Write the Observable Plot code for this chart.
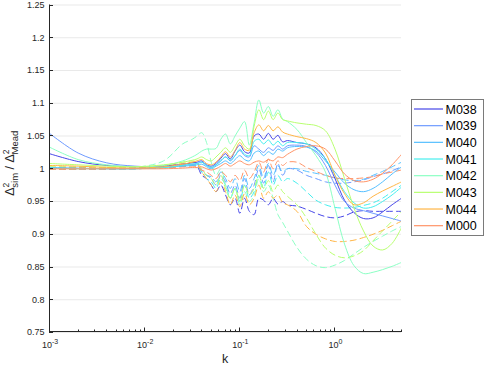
<!DOCTYPE html>
<html><head><meta charset="utf-8">
<script src="https://cdn.jsdelivr.net/npm/d3@7"></script>
<script src="https://cdn.jsdelivr.net/npm/@observablehq/plot@0.6"></script>
<style>body{margin:0;background:#fff} #chart svg{font-family:"Liberation Sans",Arial,sans-serif}</style>
</head><body><div id="chart"></div>
<script>
// wavenumber grid
const k = [0.001, 0.002, 0.004, 0.0079, 0.0158, 0.0251, 0.0316, 0.0355, 0.0398, 0.0447, 0.0501, 0.0562, 0.0631, 0.0708, 0.0794, 0.0891, 0.1, 0.1122, 0.1259, 0.1413, 0.1585, 0.1778, 0.1995, 0.2239, 0.2512, 0.2818, 0.3162, 0.3981, 0.5012, 0.631, 0.7943, 1.0, 1.2589, 1.5849, 1.9953, 2.5119, 3.1623, 3.9811, 5.0];

const models = ["M038", "M039", "M040", "M041", "M042", "M043", "M044", "M000"];
const colors = ["#4646e8", "#6f9bff", "#55bfff", "#45eeee", "#8cffc4", "#b8ff70", "#ffb545", "#ff9468"];

// solid curves
const m038Solid = [1.023,1.011,1.005,1.003,1.004,1.007,1.009,1.010,1.012,1.006,1.004,1.008,1.016,1.023,1.015,1.027,1.036,1.026,1.024,1.050,1.053,1.045,1.054,1.045,1.051,1.041,1.043,1.040,1.038,1.032,1.015,0.985,0.952,0.933,0.924,0.925,0.934,0.945,0.955];
const m039Solid = [1.054,1.024,1.009,1.004,1.003,1.005,1.007,1.008,1.010,1.005,1.002,1.006,1.012,1.018,1.012,1.020,1.028,1.020,1.018,1.035,1.030,1.025,1.032,1.028,1.035,1.030,1.035,1.036,1.034,1.025,1.005,0.975,0.950,0.940,0.936,0.932,0.928,0.924,0.920];
const m040Solid = [1.002,1.001,1.000,1.000,1.002,1.004,1.005,1.006,1.007,1.003,1.000,1.004,1.008,1.012,1.008,1.014,1.020,1.014,1.012,1.024,1.027,1.020,1.026,1.022,1.030,1.027,1.032,1.034,1.033,1.027,1.012,0.995,0.978,0.968,0.965,0.970,0.980,0.992,1.003];
const m041Solid = [1.001,1.000,1.000,1.000,1.002,1.005,1.007,1.008,1.010,1.005,1.002,1.006,1.012,1.018,1.013,1.020,1.030,1.022,1.020,1.042,1.045,1.038,1.044,1.036,1.042,1.035,1.040,1.040,1.038,1.030,1.015,0.990,0.965,0.948,0.940,0.942,0.950,0.960,0.972];
const m042Solid = [1.033,1.014,1.006,1.003,1.005,1.012,1.018,1.022,1.027,1.030,1.030,1.031,1.045,1.053,1.038,1.050,1.062,1.072,1.036,1.070,1.105,1.085,1.095,1.080,1.090,1.076,1.072,1.060,1.040,1.020,0.995,0.940,0.885,0.852,0.840,0.842,0.846,0.851,0.857];
const m043Solid = [1.008,1.006,1.004,1.003,1.006,1.010,1.013,1.015,1.018,1.014,1.012,1.018,1.025,1.032,1.025,1.035,1.045,1.035,1.030,1.065,1.090,1.075,1.088,1.075,1.085,1.075,1.073,1.070,1.068,1.066,1.058,1.030,0.985,0.940,0.905,0.882,0.876,0.886,0.910];
const m044Solid = [1.005,1.004,1.002,1.001,1.003,1.007,1.010,1.012,1.014,1.008,1.006,1.010,1.018,1.026,1.018,1.028,1.040,1.030,1.028,1.055,1.067,1.058,1.066,1.058,1.064,1.056,1.053,1.049,1.046,1.040,1.024,0.990,0.962,0.945,0.948,0.958,0.966,0.973,0.980];
const m000Solid = [1.000,1.000,1.000,1.000,1.000,1.001,1.002,1.002,1.003,1.000,0.998,1.000,1.004,1.008,1.004,1.008,1.012,1.008,1.006,1.010,1.012,1.010,1.014,1.012,1.018,1.017,1.022,1.030,1.034,1.035,1.030,1.012,0.992,0.982,0.980,0.984,0.993,1.006,1.022];

// dashed curves
const m038Dashed = [1.000,1.000,1.000,1.001,1.003,1.005,1.006,1.004,0.990,0.985,0.975,0.965,0.975,0.960,0.945,0.955,0.932,0.955,0.935,0.930,0.955,0.952,0.945,0.955,0.946,0.950,0.945,0.943,0.938,0.932,0.927,0.925,0.928,0.934,0.936,0.935,0.935,0.935,0.935];
const m039Dashed = [1.001,1.001,1.000,1.001,1.003,1.005,1.005,1.006,0.995,0.990,0.985,0.975,0.990,0.980,0.962,0.975,0.955,0.985,0.960,0.975,1.000,0.978,1.005,0.980,1.008,0.990,1.000,0.998,0.990,0.985,0.980,0.978,0.978,0.980,0.983,0.988,0.992,0.997,1.003];
const m040Dashed = [1.000,1.000,1.000,1.000,1.002,1.004,1.005,1.005,0.998,0.990,0.988,0.980,0.995,0.985,0.970,0.985,0.965,0.990,0.970,0.985,1.005,0.985,1.008,0.990,1.005,0.995,1.000,1.000,0.996,0.993,0.990,0.986,0.983,0.982,0.984,0.990,0.996,1.003,1.010];
const m041Dashed = [0.999,0.999,1.000,1.000,1.002,1.004,1.005,1.004,0.995,0.985,0.980,0.970,0.985,0.975,0.955,0.970,0.950,0.975,0.955,0.965,0.990,0.970,0.995,0.975,0.990,0.980,0.985,0.978,0.965,0.952,0.945,0.941,0.940,0.941,0.944,0.948,0.955,0.965,0.975];
const m042Dashed = [1.000,1.000,1.000,1.002,1.012,1.038,1.045,1.050,1.055,1.040,1.010,0.990,1.000,0.975,0.955,0.970,0.945,0.965,0.950,0.960,0.985,0.965,0.975,0.955,0.930,0.918,0.905,0.880,0.862,0.852,0.849,0.853,0.860,0.870,0.880,0.889,0.897,0.905,0.912];
const m043Dashed = [1.003,1.003,1.002,1.002,1.005,1.010,1.012,1.010,1.000,0.990,0.985,0.975,0.990,0.970,0.955,0.970,0.950,0.975,0.960,0.970,0.990,0.970,0.982,0.965,0.975,0.965,0.958,0.945,0.925,0.900,0.879,0.868,0.864,0.867,0.875,0.890,0.905,0.920,0.935];
const m044Dashed = [1.002,1.002,1.001,1.001,1.004,1.008,1.010,1.008,0.995,0.985,0.975,0.965,0.980,0.965,0.945,0.960,0.942,0.962,0.945,0.955,0.975,0.955,0.965,0.955,0.960,0.948,0.945,0.935,0.912,0.900,0.893,0.889,0.889,0.891,0.895,0.900,0.906,0.913,0.920];
const m000Dashed = [0.999,0.999,0.999,1.000,1.001,1.003,1.004,1.003,0.998,0.995,0.990,0.985,0.995,0.990,0.980,0.990,0.982,0.998,0.985,0.995,1.010,0.995,1.015,1.000,1.012,1.005,1.010,1.010,1.002,0.996,0.990,0.986,0.985,0.985,0.986,0.988,0.992,0.995,0.998];

const solidSeries = [m038Solid, m039Solid, m040Solid, m041Solid, m042Solid, m043Solid, m044Solid, m000Solid];
const dashedSeries = [m038Dashed, m039Dashed, m040Dashed, m041Dashed, m042Dashed, m043Dashed, m044Dashed, m000Dashed];

const yTicks = [0.75, 0.8, 0.85, 0.9, 0.95, 1, 1.05, 1.1, 1.15, 1.2, 1.25];
const yTickLabels = ["0.75", "0.8", "0.85", "0.9", "0.95", "1", "1.05", "1.1", "1.15", "1.2", "1.25"];
const xTicks = [0.001, 0.01, 0.1, 1];
const xTickExps = ["-3", "-2", "-1", "0"];
const xLabel = "k";

const rows = [];
models.forEach((m, i) => {
  k.forEach((kv, j) => {
    rows.push({model: m, style: "solid", k: kv, v: solidSeries[i][j]});
    rows.push({model: m, style: "dashed", k: kv, v: dashedSeries[i][j]});
  });
});

const lineMarks = [];
models.forEach((m, i) => {
  lineMarks.push(Plot.line(rows.filter(r => r.model === m && r.style === "dashed"),
    {x: "k", y: "v", stroke: colors[i], strokeWidth: 1, strokeDasharray: "6,4", curve: "catmull-rom", clip: true}));
});
models.forEach((m, i) => {
  lineMarks.push(Plot.line(rows.filter(r => r.model === m && r.style === "solid"),
    {x: "k", y: "v", stroke: colors[i], strokeWidth: 1, curve: "catmull-rom", clip: true}));
});

const plot = Plot.plot({
  width: 485, height: 365,
  marginLeft: 49, marginRight: 84, marginTop: 4.5, marginBottom: 33,
  x: {type: "log", domain: [0.001, 5], axis: null},
  y: {domain: [0.75, 1.25], axis: null},
  style: {background: "#fff", overflow: "visible"},
  marks: [
    Plot.ruleY(yTicks, {stroke: "#e9e9e9", strokeWidth: 1}),
    ...lineMarks,
    Plot.axisY({ticks: yTicks, tickFormat: d => yTickLabels[yTicks.indexOf(d)], tickSize: 0, tickPadding: 5, fontSize: 9, color: "#262626", label: null})
  ]
});
document.getElementById("chart").appendChild(plot);

const svg = d3.select(plot);
const xs = plot.scale("x"), ys = plot.scale("y");
const [xL, xR] = xs.range;
const [yB, yT] = ys.range;
const axisColor = "#262626";
const g = svg.append("g").attr("stroke", axisColor).attr("fill", "none");
g.append("line").attr("x1", xL + 0.5).attr("x2", xL + 0.5).attr("y1", yT).attr("y2", yB);
g.append("line").attr("x1", xL).attr("x2", xR).attr("y1", yB - 0.5).attr("y2", yB - 0.5);
yTicks.forEach(t => {
  const y = Math.round(ys.apply(t)) + 0.5;
  g.append("line").attr("x1", xL).attr("x2", xL + 4).attr("y1", y).attr("y2", y);
});
xTicks.forEach(dec => {
  for (let m = 1; m <= 9; m++) {
    const v = dec * m;
    if (v > 5.0001) break;
    const x = Math.round(xs.apply(v)) + 0.5;
    g.append("line").attr("x1", x).attr("x2", x).attr("y1", yB).attr("y2", yB - (m === 1 ? 4.5 : 2.5));
  }
});
const xt = svg.append("g").attr("fill", axisColor);
xTicks.forEach((t, i) => {
  const tx = xt.append("text").attr("x", xs.apply(t) + 1).attr("y", 348).attr("text-anchor", "middle").attr("font-size", 9);
  tx.append("tspan").text("10");
  tx.append("tspan").attr("dy", -4).attr("font-size", 7).text(xTickExps[i]);
});
svg.append("text").attr("x", (xL + xR) / 2).attr("y", 363).attr("text-anchor", "middle")
  .attr("font-size", 12.5).attr("fill", axisColor).text(xLabel);

// y label
const yl = svg.append("text").attr("transform", `translate(14,${(yT + yB) / 2 - 5}) rotate(-90)`)
  .attr("text-anchor", "middle").attr("fill", axisColor).attr("font-size", 12.5);
yl.append("tspan").text("Δ");
yl.append("tspan").attr("font-size", 8.5).attr("dy", -5).text("2");
yl.append("tspan").attr("font-size", 9.5).attr("dx", -5).attr("dy", 8.5).text("sim");
yl.append("tspan").attr("dy", -3.5).text(" / ");
yl.append("tspan").text("Δ");
yl.append("tspan").attr("font-size", 8.5).attr("dy", -5).text("2");
yl.append("tspan").attr("font-size", 9.5).attr("dx", -5).attr("dy", 8.5).text("Mead");

// legend
const lg = svg.append("g");
lg.append("rect").attr("x", 411.5).attr("y", 99.5).attr("width", 72).attr("height", 136)
  .attr("fill", "#fff").attr("stroke", "#7a7a7a");
models.forEach((m, i) => {
  const y = 109 + i * 16.67;
  lg.append("line").attr("x1", 414).attr("x2", 443).attr("y1", y).attr("y2", y)
    .attr("stroke", colors[i]).attr("stroke-width", 1.2);
  lg.append("text").attr("x", 445.5).attr("y", y + 4.5).attr("text-anchor", "start")
    .attr("font-size", 12.5).attr("fill", "#000").text(m);
});
</script>
</body></html>
